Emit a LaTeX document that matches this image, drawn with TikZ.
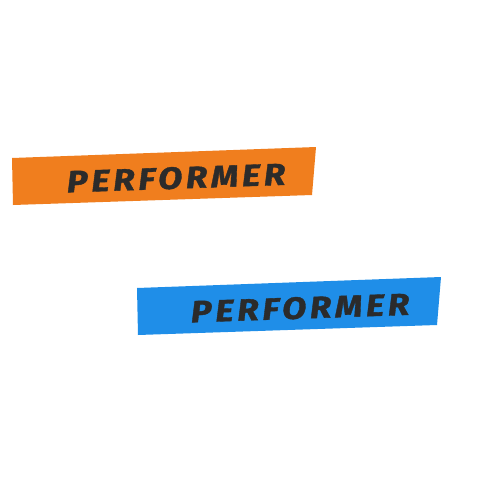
\documentclass[tikz,border=0pt]{standalone}
\usepackage{fontspec}
\newfontfamily\handfont[LetterSpace=12,FakeBold=1.2,FakeStretch=1.15]{Fira Sans}
\usepackage{tikz}
\definecolor{tapeorange}{HTML}{F07E1E}
\definecolor{tapeblue}{HTML}{1F8EE8}
\definecolor{ink}{HTML}{2B2B2B}

\begin{document}
\begin{tikzpicture}[x=0.75pt,y=-0.75pt,tape/.style={fill=#1,draw=none},word/.style={font=\handfont\bfseries\itshape\fontsize{23}{23}\selectfont,text=ink,rotate=2,inner sep=0pt}]
\useasboundingbox[fill=white] (0,0) rectangle (480,480);
\fill[tape=tapeorange] (12,158) -- (316,147) -- (312,195) -- (13,205) -- cycle;
\fill[tape=tapeblue] (137,288) -- (441,277) -- (437,325) -- (138,335) -- cycle;
\foreach \n/\x/\y in %
{orange/176/178,blue/300/308} {
   \node[word] (\n) at (\x,\y) {PERFORMER};
}
\end{tikzpicture}
\end{document}
